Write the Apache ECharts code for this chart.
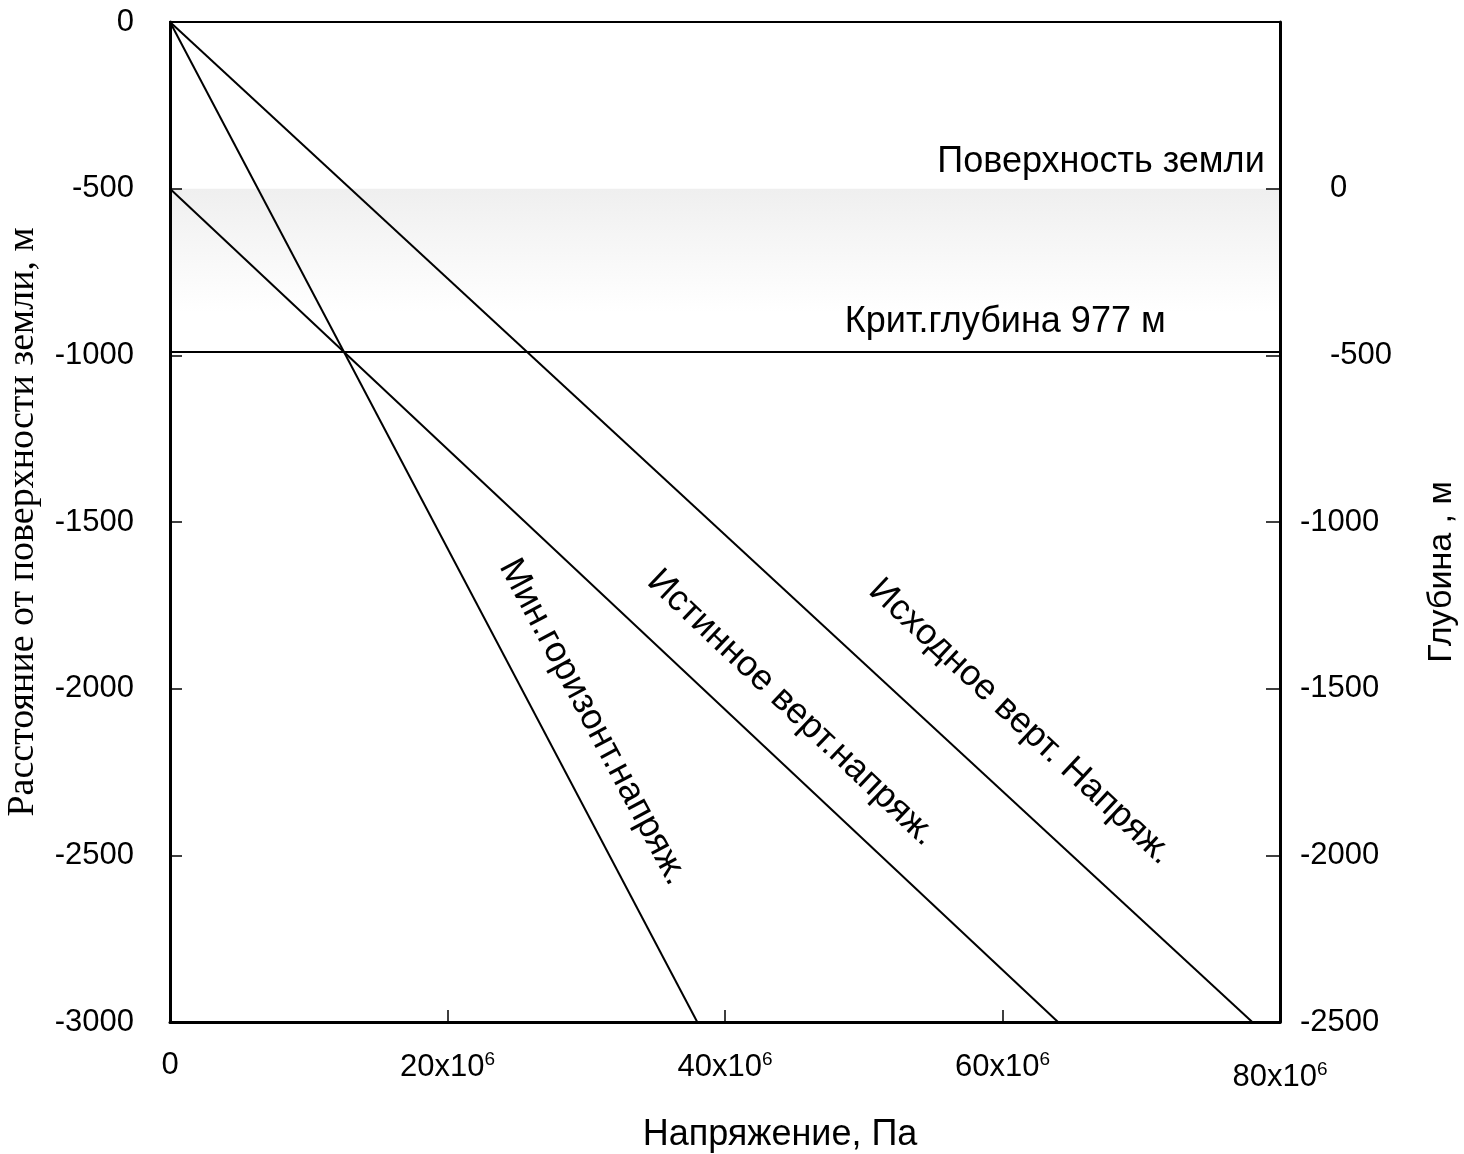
<!DOCTYPE html>
<html>
<head>
<meta charset="utf-8">
<script src="https://cdn.jsdelivr.net/npm/echarts@6/dist/echarts.min.js"></script>
<style>
html,body{margin:0;padding:0;background:#fff;}
#c{width:1464px;height:1154px;}
</style>
</head>
<body>
<div id="c"></div>
<script>
// X ticks (stress, Pa) and Y ticks (left: distance, right: depth)
const xTicks = [0, 20e6, 40e6, 60e6, 80e6];
const yLeftTicks = [0, -500, -1000, -1500, -2000, -2500, -3000];
const yRightTicks = [0, -500, -1000, -1500, -2000, -2500];

// Lines: [stress, distance]
const initialVert = [[0, 0], [78e6, -3000]];
const minHoriz = [[0, 0], [38e6, -3000]];
const trueVert = [[0, -500], [64e6, -3000]];
const critDepthLine = [[0, -990], [80e6, -990]];

// Surface shading band (distance range)
const surfaceBand = [-500, -870];

// Annotations: [stress, distance, text, angle]
const lineLabels = [
  [30.5e6, -2100, 'Мин.горизонт.напряж.', -62],
  [44.8e6, -2058, 'Истинное верт.напряж.', -43.5],
  [61.3e6, -2100, 'Исходное верт. Напряж.', -43]
];
const surfaceLabel = [78.9e6, -420, 'Поверхность земли'];
const critLabel = [60.2e6, -900, 'Крит.глубина 977 м'];

const SANS = '"Liberation Sans", Arial, sans-serif';
const SERIF = '"Liberation Serif", "Times New Roman", serif';

const chart = echarts.init(document.getElementById('c'), null, {renderer: 'canvas'});

const lineStyle = {color: '#000', width: 2};
function lineSeries(name, data, extra) {
  return Object.assign({
    name: name, type: 'line', data: data, symbol: 'none',
    lineStyle: lineStyle, silent: true, animation: false, z: 3
  }, extra || {});
}
function annLabel(extra) {
  return Object.assign({
    show: true, position: 'inside', fontFamily: SANS, fontSize: 36, color: '#000',
    opacity: 1, textBorderWidth: 0, align: 'center', verticalAlign: 'middle'
  }, extra);
}

const option = {
  backgroundColor: '#fff',
  animation: false,
  grid: {left: 170, right: 184, top: 22, bottom: 132, show: true, borderColor: '#000', borderWidth: 2,
         containLabel: false, outerBoundsMode: 'none'},
  xAxis: {
    type: 'value', min: xTicks[0], max: xTicks[xTicks.length - 1], interval: 20e6,
    position: 'bottom', z: 10,
    name: 'Напряжение, Па', nameLocation: 'middle', nameGap: 95,
    nameTextStyle: {fontFamily: SANS, fontSize: 36, color: '#000', padding: [0, 0, 0, 110]},
    axisLine: {show: true, onZero: false, lineStyle: {color: '#000', width: 3}},
    axisTick: {show: true, inside: true, length: 12, lineStyle: {color: '#000', width: 1.5}},
    splitLine: {show: false},
    axisLabel: {
      margin: 28, color: '#000', fontFamily: SANS, fontSize: 31,
      formatter: function (v) {
        if (v === 0) return '{n|0}';
        const m = Math.round(v / 1e6);
        if (m === 80) return '{d|' + m + 'x10}{e|6}';
        return '{n|' + m + 'x10}{s|6}';
      },
      rich: {
        n: {fontFamily: SANS, fontSize: 31, color: '#000', verticalAlign: 'bottom'},
        s: {fontFamily: SANS, fontSize: 19, color: '#000', verticalAlign: 'bottom', padding: [0, 0, 14, 0]},
        d: {fontFamily: SANS, fontSize: 31, color: '#000', verticalAlign: 'bottom', padding: [12, 0, 0, 0]},
        e: {fontFamily: SANS, fontSize: 19, color: '#000', verticalAlign: 'bottom', padding: [0, 0, 14, 0]}
      }
    }
  },
  yAxis: [
    {
      type: 'value', min: yLeftTicks[yLeftTicks.length - 1], max: yLeftTicks[0], interval: 500,
      position: 'left', z: 10,
      name: 'Расстояние от поверхности земли, м', nameLocation: 'middle', nameGap: 128, nameRotate: 90,
      nameTextStyle: {fontFamily: SERIF, fontSize: 38, color: '#000'},
      axisLine: {show: true, onZero: false, lineStyle: {color: '#000', width: 3}},
      axisTick: {show: true, inside: true, length: 12, lineStyle: {color: '#000', width: 1.5}},
      splitLine: {show: false},
      axisLabel: {margin: 36, color: '#000', fontFamily: SANS, fontSize: 31,
        formatter: function (v) { return String(v); }}
    },
    {
      type: 'value', min: yRightTicks[yRightTicks.length - 1], max: 500, interval: 500,
      position: 'right', z: 10,
      name: 'Глубина , м', nameLocation: 'middle', nameGap: 145, nameRotate: 90,
      nameTextStyle: {fontFamily: SANS, fontSize: 34, color: '#000', padding: [0, 100, 0, 0]},
      axisLine: {show: true, onZero: false, lineStyle: {color: '#000', width: 3}},
      axisTick: {show: true, inside: true, length: 14, lineStyle: {color: '#000', width: 1.5}},
      splitLine: {show: false},
      axisLabel: {
        margin: 20, color: '#000', fontFamily: SANS, fontSize: 31, align: 'left',
        formatter: function (v) {
          if (v > 0) return '';
          if (v === 0 || v === -500) return '{p|' + v + '}';
          return String(v);
        },
        rich: {p: {fontFamily: SANS, fontSize: 31, color: '#000', padding: [0, 0, 0, 30]}}
      }
    }
  ],
  series: [
    lineSeries('band', critDepthLine, {
      markArea: {
        silent: true, z: 1,
        itemStyle: {
          color: new echarts.graphic.LinearGradient(0, 0, 0, 1, [
            {offset: 0, color: '#efefef'},
            {offset: 1, color: '#ffffff'}
          ])
        },
        data: [[{xAxis: xTicks[0], yAxis: surfaceBand[0]}, {xAxis: xTicks[xTicks.length - 1], yAxis: surfaceBand[1]}]]
      },
      z: 2
    }),
    lineSeries('Исходное верт. Напряж.', initialVert),
    lineSeries('Мин.горизонт.напряж.', minHoriz),
    lineSeries('Истинное верт.напряж.', trueVert),
    {
      type: 'scatter', symbolSize: 0, silent: true, z: 5, itemStyle: {opacity: 1},
      data: lineLabels.map(function (d) {
        return {value: [d[0], d[1]], label: annLabel({formatter: d[2], rotate: d[3]})};
      })
    },
    {
      type: 'scatter', symbolSize: 0, silent: true, z: 5, itemStyle: {opacity: 1},
      data: [
        {value: [surfaceLabel[0], surfaceLabel[1]], label: annLabel({formatter: surfaceLabel[2], align: 'right'})},
        {value: [critLabel[0], critLabel[1]], label: annLabel({formatter: critLabel[2]})}
      ]
    }
  ]
};
chart.setOption(option);
</script>
</body>
</html>
